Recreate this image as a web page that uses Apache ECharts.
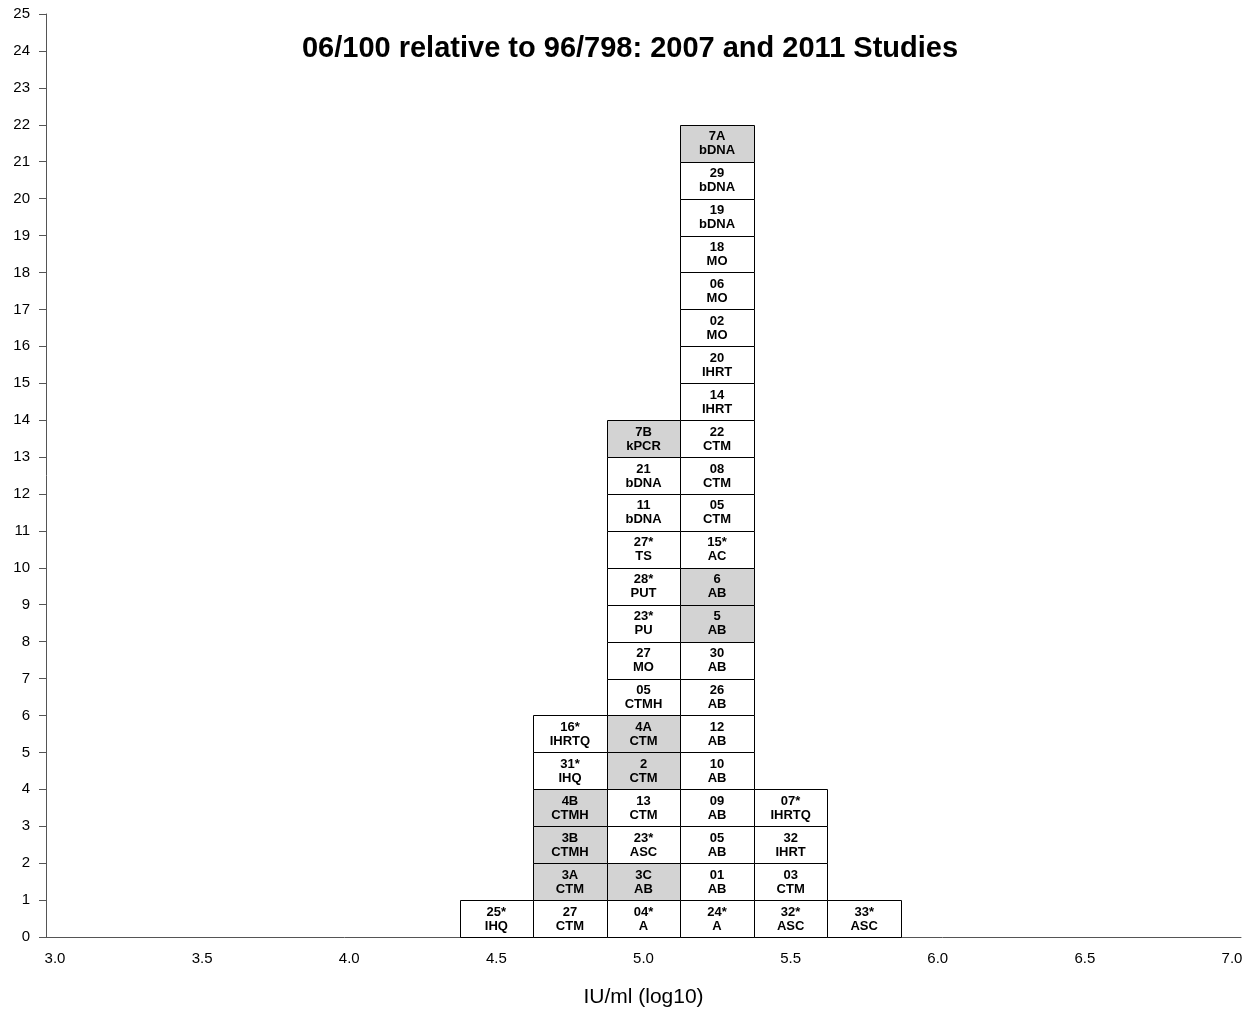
<!DOCTYPE html>
<html>
<head>
<meta charset="utf-8">
<script src="https://cdn.jsdelivr.net/npm/echarts@6/dist/echarts.min.js"></script>
<style>html,body{margin:0;padding:0;background:#fff;}#c{width:1258px;height:1015px;}</style>
</head>
<body>
<div id="c"></div>
<script>
// Bin centres (log10 IU/ml), each bin is 0.25 wide
const binCenters = [4.5, 4.75, 5.0, 5.25, 5.5, 5.75];
// Stacked boxes per bin, bottom to top: lab codes and methods
const labs450 = ['25*'];
const methods450 = ['IHQ'];
const labs475 = ['27', '3A', '3B', '4B', '31*', '16*'];
const methods475 = ['CTM', 'CTM', 'CTMH', 'CTMH', 'IHQ', 'IHRTQ'];
const labs500 = ['04*', '3C', '23*', '13', '2', '4A', '05', '27', '23*', '28*', '27*', '11', '21', '7B'];
const methods500 = ['A', 'AB', 'ASC', 'CTM', 'CTM', 'CTM', 'CTMH', 'MO', 'PU', 'PUT', 'TS', 'bDNA', 'bDNA', 'kPCR'];
const labs525 = ['24*', '01', '05', '09', '10', '12', '26', '30', '5', '6', '15*', '05', '08', '22', '14', '20', '02', '06', '18', '19', '29', '7A'];
const methods525 = ['A', 'AB', 'AB', 'AB', 'AB', 'AB', 'AB', 'AB', 'AB', 'AB', 'AC', 'CTM', 'CTM', 'CTM', 'IHRT', 'IHRT', 'MO', 'MO', 'MO', 'bDNA', 'bDNA', 'bDNA'];
const labs550 = ['32*', '03', '32', '07*'];
const methods550 = ['ASC', 'CTM', 'IHRT', 'IHRTQ'];
const labs575 = ['33*'];
const methods575 = ['ASC'];
// Labs from the 2011 study (shown shaded)
const study2011Labs = ['3A', '3B', '4B', '3C', '2', '4A', '7B', '5', '6', '7A'];
const yMax = 25;

const columns = [
  [labs450, methods450], [labs475, methods475], [labs500, methods500],
  [labs525, methods525], [labs550, methods550], [labs575, methods575]
];
const boxes = [];
columns.forEach((col, i) => {
  col[0].forEach((lab, j) => {
    boxes.push([binCenters[i], j, lab, col[1][j]]);
  });
});
const halfW = 0.125;

const chart = echarts.init(document.getElementById('c'), null, {renderer: 'canvas'});
const font = '"Liberation Sans", Arial, Helvetica, sans-serif';
chart.setOption({
  animation: false,
  backgroundColor: '#fff',
  title: {
    text: '06/100 relative to 96/798: 2007 and 2011 Studies',
    left: 625, textAlign: 'center', top: 29,
    textStyle: {fontFamily: font, fontSize: 29, fontWeight: 'bold', color: '#000'}
  },
  grid: [
    {left: 55, right: 26, top: 14, bottom: 78},
    {left: 46, right: 17, top: 14, bottom: 78}
  ],
  xAxis: [
    {
      type: 'value', gridIndex: 0, min: 3, max: 7, interval: 0.5,
      axisLine: {show: false}, axisTick: {show: false}, splitLine: {show: false},
      axisLabel: {fontFamily: font, fontSize: 15, color: '#000', margin: 14,
        formatter: v => v.toFixed(1)},
      name: 'IU/ml (log10)', nameLocation: 'middle', nameGap: 50,
      nameTextStyle: {fontFamily: font, fontSize: 21, color: '#000'}
    },
    {
      type: 'value', gridIndex: 1, min: 0, max: 1,
      axisLine: {show: true, onZero: false, lineStyle: {color: '#555', width: 1}},
      axisTick: {show: false}, axisLabel: {show: false}, splitLine: {show: false}
    }
  ],
  yAxis: [
    {
      type: 'value', gridIndex: 0, min: 0, max: yMax, interval: 1, offset: 9,
      axisLine: {show: true, lineStyle: {color: '#555', width: 1}},
      axisTick: {show: true, length: 7, lineStyle: {color: '#555'}},
      splitLine: {show: false},
      axisLabel: {fontFamily: font, fontSize: 15, color: '#000', margin: 16}
    },
    {
      type: 'value', gridIndex: 1, min: 0, max: 1, show: false
    }
  ],
  series: [{
    type: 'custom',
    xAxisIndex: 0, yAxisIndex: 0,
    data: boxes,
    encode: {x: 0, y: 1},
    renderItem: function (params, api) {
      const x = api.value(0), y = api.value(1);
      const lab = boxes[params.dataIndex][2];
      const method = boxes[params.dataIndex][3];
      const p0 = api.coord([x - halfW, y + 1]);
      const p1 = api.coord([x + halfW, y]);
      const shaded = study2011Labs.indexOf(lab) >= 0;
      return {
        type: 'group',
        children: [{
          type: 'rect',
          shape: {x: Math.round(p0[0]) + 0.5, y: Math.round(p0[1]) + 0.5,
                  width: Math.round(p1[0]) - Math.round(p0[0]),
                  height: Math.round(p1[1]) - Math.round(p0[1])},
          style: {fill: shaded ? '#d3d3d3' : '#fff', stroke: '#000', lineWidth: 1}
        }, {
          type: 'text',
          x: (p0[0] + p1[0]) / 2, y: (p0[1] + p1[1]) / 2 + 0.5,
          style: {
            text: lab + '\n' + method,
            fontFamily: font, fontSize: 13, fontWeight: 'bold', fill: '#000',
            align: 'center', verticalAlign: 'middle', lineHeight: 14
          }
        }]
      };
    }
  }]
});
</script>
</body>
</html>
